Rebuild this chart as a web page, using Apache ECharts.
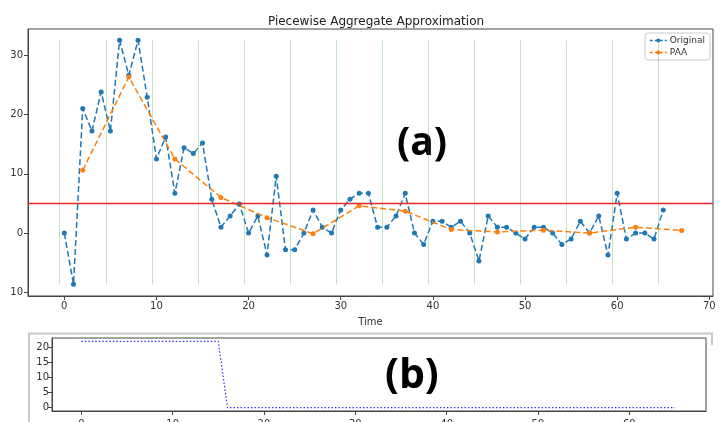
<!DOCTYPE html>
<html>
<head>
<meta charset="utf-8">
<script src="https://cdn.jsdelivr.net/npm/echarts@6/dist/echarts.min.js"></script>
<style>
  html, body { margin: 0; padding: 0; background: #fff; }
  #chart { width: 722px; height: 422px; }
</style>
</head>
<body>
<div id="chart"></div>
<script>
// 原始序列 (t = 0..65)
const original = [
  0, -8.6, 21.0, 17.2, 23.8, 17.2, 32.5, 26.6, 32.5, 22.9,
  12.5, 16.2, 6.7, 14.4, 13.4, 15.2, 5.7, 1.0, 2.9, 4.9,
  0, 2.9, -3.7, 9.6, -2.8, -2.8, 0, 3.9, 1.0, 0,
  3.9, 5.7, 6.7, 6.7, 1.0, 1.0, 2.9, 6.7, 0, -1.9,
  2.0, 2.0, 1.0, 2.0, 0, -4.7, 2.9, 1.0, 1.0, 0,
  -1.0, 1.0, 1.0, 0, -1.9, -1.0, 2.0, 0, 2.9, -3.7,
  6.7, -1.0, 0, 0, -1.0, 3.9
];

// PAA 分段均值
const paaTime = [2, 7, 12, 17, 22, 27, 32, 37, 42, 47, 52, 57, 62, 67];
const paaValues = [10.6, 26.3, 12.5, 6.0, 2.6, -0.1, 4.6, 3.7, 0.6, 0.2, 0.5, 0, 1.0, 0.45];

// 分段边界（绿色竖线）
const boundaries = [-0.5, 4.5, 9.5, 14.5, 19.5, 24.5, 29.5, 34.5, 39.5, 44.5, 49.5, 54.5, 59.5, 64.5];
const threshold = 5;

// 下方子图 (b)
const stepValues = [
  22, 22, 22, 22, 22, 22, 22, 22, 22, 22, 22, 22, 22, 22, 22, 22,
  0, 0, 0, 0, 0, 0, 0, 0, 0, 0, 0, 0, 0, 0, 0, 0, 0, 0, 0, 0, 0, 0, 0, 0, 0,
  0, 0, 0, 0, 0, 0, 0, 0, 0, 0, 0, 0, 0, 0, 0, 0, 0, 0, 0, 0, 0, 0, 0, 0, 0
];
const faintPoint = [[-1.4, 15.6]];

const xTicksTop = [0, 10, 20, 30, 40, 50, 60, 70];
const yTicksTop = [-10, 0, 10, 20, 30];
const xTicksBottom = [0, 10, 20, 30, 40, 50, 60];
const yTicksBottom = [0, 5, 10, 15, 20];

const FONT = 'DejaVu Sans';
const AXIS_COLOR = '#444';
const LABEL_COLOR = '#333';

const chart = echarts.init(document.getElementById('chart'), null, { renderer: 'canvas' });

const yMin = Math.min(...original);
const yMax = Math.max(...original);

const vlines = boundaries.map(b => [
  { coord: [b, yMin] },
  { coord: [b, yMax] }
]);

function valueAxis(opts) {
  return Object.assign({
    type: 'value',
    splitLine: { show: false },
    axisLine: { show: true, onZero: false, lineStyle: { color: AXIS_COLOR, width: 1 } },
    axisTick: { show: true, length: 4, lineStyle: { color: AXIS_COLOR } },
    axisLabel: { color: LABEL_COLOR, fontFamily: FONT, fontSize: 10 }
  }, opts);
}

chart.setOption({
  animation: false,
  title: {
    text: 'Piecewise Aggregate Approximation',
    left: 371, top: 11, textAlign: 'center',
    textStyle: { fontFamily: FONT, fontSize: 12, fontWeight: 'normal', color: '#222' }
  },
  legend: {
    data: ['Original', 'PAA'],
    orient: 'vertical',
    right: 12, top: 33,
    itemWidth: 17, itemHeight: 5, itemGap: 3,
    padding: [3, 5, 3, 4],
    borderColor: '#ccc', borderWidth: 1, borderRadius: 3,
    backgroundColor: '#fff',
    lineStyle: { type: [3, 2], width: 1.5 },
    textStyle: { fontFamily: FONT, fontSize: 9, color: '#333', padding: [0, 0, 0, -2] }
  },
  grid: [
    { left: 28, top: 29, width: 685, height: 267, show: true, borderColor: AXIS_COLOR, borderWidth: 1, outerBoundsMode: 'none' },
    { left: 52, top: 338, width: 654, height: 73, show: true, borderColor: AXIS_COLOR, borderWidth: 1, outerBoundsMode: 'none' }
  ],
  xAxis: [
    valueAxis({
      gridIndex: 0, min: -3.94, max: 70.4,
      name: 'Time', nameLocation: 'middle', nameGap: 21,
      nameTextStyle: { fontFamily: FONT, fontSize: 10, color: LABEL_COLOR },
      axisTick: { show: true, length: 4, lineStyle: { color: AXIS_COLOR }, customValues: xTicksTop },
      axisLabel: { color: LABEL_COLOR, fontFamily: FONT, fontSize: 10, margin: 5, customValues: xTicksTop }
    }),
    valueAxis({
      gridIndex: 1, min: -3.21, max: 68.4,
      axisTick: { show: true, length: 4, lineStyle: { color: AXIS_COLOR }, customValues: xTicksBottom },
      axisLabel: { color: LABEL_COLOR, fontFamily: FONT, fontSize: 10, margin: 8, customValues: xTicksBottom }
    })
  ],
  yAxis: [
    valueAxis({
      gridIndex: 0, min: -10.6, max: 34.4,
      axisTick: { show: true, length: 4, lineStyle: { color: AXIS_COLOR }, customValues: yTicksTop },
      axisLabel: {
        color: LABEL_COLOR, fontFamily: FONT, fontSize: 10, margin: 5, customValues: yTicksTop,
        formatter: v => String(Math.abs(v))
      }
    }),
    valueAxis({
      gridIndex: 1, min: -1.1, max: 23.1,
      axisTick: { show: true, length: 4, lineStyle: { color: AXIS_COLOR }, customValues: yTicksBottom },
      axisLabel: { color: LABEL_COLOR, fontFamily: FONT, fontSize: 10, margin: 3, customValues: yTicksBottom }
    })
  ],
  graphic: [
    {
      type: 'polyline', silent: true,
      shape: { points: [[29, 440], [29, 333.5], [712, 333.5], [712, 345]] },
      style: { stroke: '#c8c8c8', lineWidth: 2, fill: null }
    },
    {
      type: 'text', left: 397, top: 124,
      style: { text: '(a)', font: 'bold 39px "Open Sans"', fill: '#000' }
    },
    {
      type: 'text', left: 385, top: 356,
      style: { text: '(b)', font: 'bold 41px "Open Sans"', fill: '#000' }
    }
  ],
  series: [
    {
      // 分段边界与阈值线，放在最底层
      name: 'guides', type: 'line', xAxisIndex: 0, yAxisIndex: 0,
      data: [], z: 1,
      markLine: {
        silent: true, symbol: 'none', animation: false,
        label: { show: false },
        lineStyle: { color: 'rgba(44,160,44,0.28)', width: 1, type: 'solid' },
        data: [
          ...vlines,
          { yAxis: threshold, lineStyle: { color: '#e8262a', width: 1.4, type: 'solid' } }
        ]
      }
    },
    {
      name: 'Original', type: 'line', xAxisIndex: 0, yAxisIndex: 0,
      data: original.map((v, i) => [i, v]),
      symbol: 'circle', symbolSize: 5, showSymbol: true,
      itemStyle: { color: '#1f77b4' },
      lineStyle: { color: '#1f77b4', width: 1.5, type: [6, 3] },
      z: 3
    },
    {
      name: 'PAA', type: 'line', xAxisIndex: 0, yAxisIndex: 0,
      data: paaTime.map((t, i) => [t, paaValues[i]]),
      symbol: 'circle', symbolSize: 5,
      itemStyle: { color: '#ff7f0e' },
      lineStyle: { color: '#ff7f0e', width: 1.5, type: [6, 3] },
      z: 4
    },
    {
      name: 'step', type: 'line', xAxisIndex: 1, yAxisIndex: 1,
      data: stepValues.map((v, i) => [i, v]),
      showSymbol: false,
      lineStyle: { color: '#3333ff', width: 1.2, type: [1.5, 2] }
    },
    {
      name: 'faint', type: 'scatter', xAxisIndex: 1, yAxisIndex: 1,
      data: faintPoint,
      symbol: 'emptyCircle', symbolSize: 8,
      itemStyle: { color: '#fff', borderColor: '#e6e6e6', borderWidth: 1.5 }
    }
  ]
});
</script>
</body>
</html>
